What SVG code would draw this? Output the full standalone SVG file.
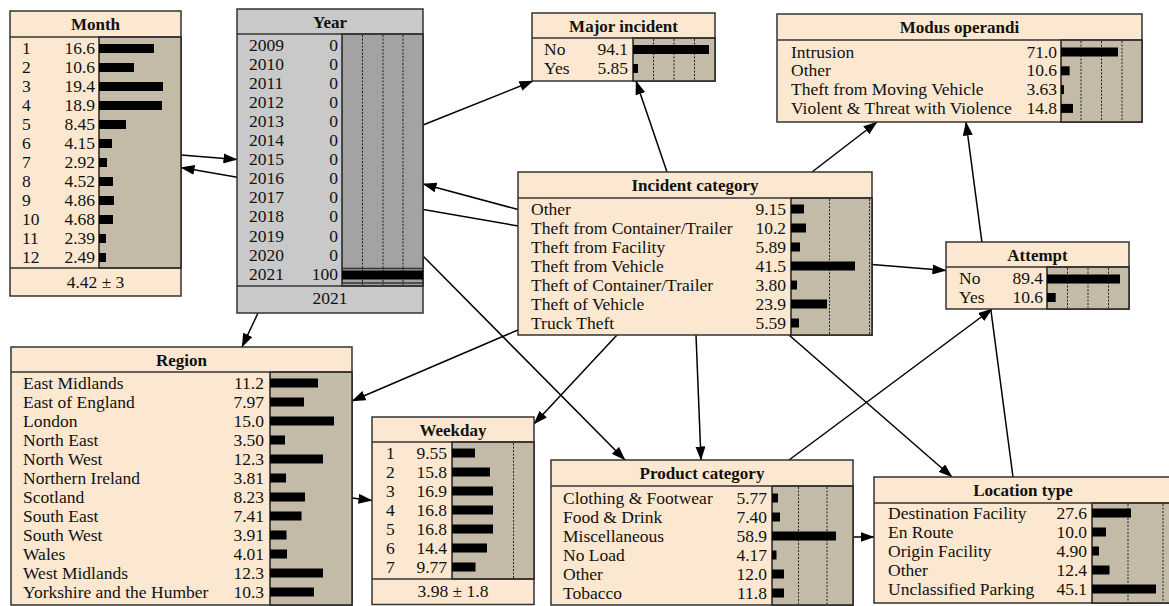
<svg xmlns="http://www.w3.org/2000/svg" width="1169" height="606" viewBox="0 0 1169 606">
<defs>
<marker id="ah" markerUnits="userSpaceOnUse" markerWidth="14" markerHeight="10" refX="13.5" refY="5" orient="auto">
<path d="M0,0 L14,5 L0,10 z" fill="#000"/>
</marker>
</defs>
<style>
text{font-family:"Liberation Serif","Times New Roman",serif;font-size:17.5px;fill:#111}
.ttl{font-weight:bold;text-anchor:middle;font-size:17px}
.val{text-anchor:end}
.ft{text-anchor:middle}
.box{fill:#fce8d0;stroke:#333;stroke-width:1.5}
.gbox{fill:#c9c9c9;stroke:#333;stroke-width:1.5}
.ba{fill:#c4baa8;stroke:#222;stroke-width:1.5}
.gba{fill:#a3a3a3;stroke:#222;stroke-width:1.5}
.sep{stroke:#333;stroke-width:1.5}
.dot{stroke:#222;stroke-width:1;stroke-dasharray:2,1.5}
.bar{fill:#000}
.lnk{stroke:#000;stroke-width:1.5;fill:none;marker-end:url(#ah)}
</style>
<rect width="1169" height="606" fill="#fff"/>

<!-- links between nodes, drawn first so boxes sit on top -->
<g id="connectors">
<line class="lnk" x1="181" y1="155" x2="237" y2="159.5"/>
<line class="lnk" x1="518" y1="226" x2="181" y2="167.5"/>
<line class="lnk" x1="518" y1="209.5" x2="423" y2="184"/>
<line class="lnk" x1="423" y1="125" x2="533" y2="81"/>
<line class="lnk" x1="667" y1="172" x2="636" y2="81"/>
<line class="lnk" x1="812" y1="172" x2="877" y2="122"/>
<line class="lnk" x1="872" y1="264.5" x2="946" y2="270.5"/>
<line class="lnk" x1="1013" y1="477" x2="966" y2="122"/>
<line class="lnk" x1="789" y1="460" x2="992" y2="309"/>
<line class="lnk" x1="258" y1="313" x2="242" y2="347"/>
<line class="lnk" x1="518" y1="330" x2="352" y2="401"/>
<line class="lnk" x1="352" y1="498" x2="372" y2="500.5"/>
<line class="lnk" x1="617" y1="335" x2="534" y2="424"/>
<line class="lnk" x1="423" y1="256" x2="625" y2="460"/>
<line class="lnk" x1="696" y1="335" x2="701" y2="460"/>
<line class="lnk" x1="789" y1="335" x2="952" y2="477"/>
<line class="lnk" x1="853" y1="537" x2="874" y2="537"/>
</g>

<!-- Month -->
<g id="month">
<rect class="box" x="10" y="11" width="171" height="285"/>
<rect class="ba" x="99" y="37" width="82" height="231"/>
<line class="sep" x1="10" y1="37" x2="181" y2="37"/>
<line class="sep" x1="10" y1="268" x2="181" y2="268"/>
<text class="ttl" x="95.5" y="30">Month</text>
<g>
<text x="22" y="53.5">1</text><text class="val" x="95" y="53.5">16.6</text><rect class="bar" x="99" y="44" width="55" height="9"/>
<text x="22" y="72.5">2</text><text class="val" x="95" y="72.5">10.6</text><rect class="bar" x="99" y="63" width="35" height="9"/>
<text x="22" y="91.5">3</text><text class="val" x="95" y="91.5">19.4</text><rect class="bar" x="99" y="82" width="64" height="9"/>
<text x="22" y="110.5">4</text><text class="val" x="95" y="110.5">18.9</text><rect class="bar" x="99" y="101" width="63" height="9"/>
<text x="22" y="129.5">5</text><text class="val" x="95" y="129.5">8.45</text><rect class="bar" x="99" y="120" width="27" height="9"/>
<text x="22" y="148.5">6</text><text class="val" x="95" y="148.5">4.15</text><rect class="bar" x="99" y="139" width="13" height="9"/>
<text x="22" y="167.5">7</text><text class="val" x="95" y="167.5">2.92</text><rect class="bar" x="99" y="158" width="8" height="9"/>
<text x="22" y="186.5">8</text><text class="val" x="95" y="186.5">4.52</text><rect class="bar" x="99" y="177" width="14" height="9"/>
<text x="22" y="205.5">9</text><text class="val" x="95" y="205.5">4.86</text><rect class="bar" x="99" y="196" width="15" height="9"/>
<text x="22" y="224.5">10</text><text class="val" x="95" y="224.5">4.68</text><rect class="bar" x="99" y="215" width="14" height="9"/>
<text x="22" y="243.5">11</text><text class="val" x="95" y="243.5">2.39</text><rect class="bar" x="99" y="234" width="7" height="9"/>
<text x="22" y="262.5">12</text><text class="val" x="95" y="262.5">2.49</text><rect class="bar" x="99" y="253" width="7" height="9"/>
</g>
<text class="ft" x="95.5" y="287.5">4.42 ± 3</text>
</g>

<!-- Year -->
<g id="year">
<rect class="gbox" x="237" y="9" width="186" height="304"/>
<rect class="gba" x="342" y="34" width="81" height="252"/>
<line class="dot" x1="362.5" y1="35" x2="362.5" y2="285"/>
<line class="dot" x1="383" y1="35" x2="383" y2="285"/>
<line class="dot" x1="403" y1="35" x2="403" y2="285"/>
<line class="sep" x1="237" y1="34" x2="423" y2="34"/>
<line class="sep" x1="237" y1="286" x2="423" y2="286"/>
<line class="sep" x1="342" y1="268.5" x2="423" y2="268.5"/>
<rect class="bar" x="342" y="270.5" width="81" height="9"/>
<line class="sep" x1="342" y1="283" x2="423" y2="283"/>
<text class="ttl" x="330" y="28">Year</text>
<g>
<text x="249" y="50.5">2009</text><text class="val" x="338" y="50.5">0</text>
<text x="249" y="69.6">2010</text><text class="val" x="338" y="69.6">0</text>
<text x="249" y="88.7">2011</text><text class="val" x="338" y="88.7">0</text>
<text x="249" y="107.8">2012</text><text class="val" x="338" y="107.8">0</text>
<text x="249" y="126.9">2013</text><text class="val" x="338" y="126.9">0</text>
<text x="249" y="146">2014</text><text class="val" x="338" y="146">0</text>
<text x="249" y="165.1">2015</text><text class="val" x="338" y="165.1">0</text>
<text x="249" y="184.2">2016</text><text class="val" x="338" y="184.2">0</text>
<text x="249" y="203.3">2017</text><text class="val" x="338" y="203.3">0</text>
<text x="249" y="222.4">2018</text><text class="val" x="338" y="222.4">0</text>
<text x="249" y="241.5">2019</text><text class="val" x="338" y="241.5">0</text>
<text x="249" y="260.6">2020</text><text class="val" x="338" y="260.6">0</text>
<text x="249" y="279.7">2021</text><text class="val" x="338" y="279.7">100</text>
</g>
<text class="ft" x="330" y="304">2021</text>
</g>

<!-- Major incident -->
<g id="major-incident">
<rect class="box" x="532" y="13" width="183" height="68"/>
<rect class="ba" x="633" y="38" width="82" height="43"/>
<line class="dot" x1="653.5" y1="39" x2="653.5" y2="80"/>
<line class="dot" x1="674" y1="39" x2="674" y2="80"/>
<line class="dot" x1="694.5" y1="39" x2="694.5" y2="80"/>
<line class="sep" x1="532" y1="38" x2="715" y2="38"/>
<text class="ttl" x="623.5" y="32">Major incident</text>
<text x="544" y="54.5">No</text><text class="val" x="628" y="54.5">94.1</text><rect class="bar" x="633" y="45" width="76" height="9"/>
<text x="544" y="73.5">Yes</text><text class="val" x="628" y="73.5">5.85</text><rect class="bar" x="633" y="64" width="5" height="9"/>
</g>

<!-- Modus operandi -->
<g id="modus-operandi">
<rect class="box" x="777" y="14" width="365" height="108"/>
<rect class="ba" x="1061" y="40" width="81" height="82"/>
<line class="dot" x1="1081" y1="41" x2="1081" y2="121"/>
<line class="dot" x1="1101.5" y1="41" x2="1101.5" y2="121"/>
<line class="dot" x1="1122" y1="41" x2="1122" y2="121"/>
<line class="sep" x1="777" y1="40" x2="1142" y2="40"/>
<text class="ttl" x="959.5" y="33">Modus operandi</text>
<text x="791" y="57.5">Intrusion</text><text class="val" x="1057" y="57.5">71.0</text><rect class="bar" x="1061" y="47.5" width="57" height="9"/>
<text x="791" y="76.3">Other</text><text class="val" x="1057" y="76.3">10.6</text><rect class="bar" x="1061" y="66.3" width="8.6" height="9"/>
<text x="791" y="95.1">Theft from Moving Vehicle</text><text class="val" x="1057" y="95.1">3.63</text><rect class="bar" x="1061" y="85.1" width="3" height="9"/>
<text x="791" y="113.9">Violent &amp; Threat with Violence</text><text class="val" x="1057" y="113.9">14.8</text><rect class="bar" x="1061" y="103.9" width="12" height="9"/>
</g>

<!-- Incident category -->
<g id="incident-category">
<rect class="box" x="518" y="172" width="354" height="163"/>
<rect class="ba" x="791" y="198" width="81" height="137"/>
<line class="dot" x1="829.5" y1="199" x2="829.5" y2="334"/>
<line class="dot" x1="869.5" y1="199" x2="869.5" y2="334"/>
<line class="sep" x1="518" y1="198" x2="872" y2="198"/>
<text class="ttl" x="695" y="191">Incident category</text>
<text x="531" y="214.5">Other</text><text class="val" x="786" y="214.5">9.15</text><rect class="bar" x="791" y="204.5" width="13" height="9"/>
<text x="531" y="233.5">Theft from Container/Trailer</text><text class="val" x="786" y="233.5">10.2</text><rect class="bar" x="791" y="223.5" width="15" height="9"/>
<text x="531" y="252.5">Theft from Facility</text><text class="val" x="786" y="252.5">5.89</text><rect class="bar" x="791" y="242.5" width="9" height="9"/>
<text x="531" y="271.5">Theft from Vehicle</text><text class="val" x="786" y="271.5">41.5</text><rect class="bar" x="791" y="261.5" width="64" height="9"/>
<text x="531" y="290.5">Theft of Container/Trailer</text><text class="val" x="786" y="290.5">3.80</text><rect class="bar" x="791" y="280.5" width="6" height="9"/>
<text x="531" y="309.5">Theft of Vehicle</text><text class="val" x="786" y="309.5">23.9</text><rect class="bar" x="791" y="299.5" width="36" height="9"/>
<text x="531" y="328.5">Truck Theft</text><text class="val" x="786" y="328.5">5.59</text><rect class="bar" x="791" y="318.5" width="8" height="9"/>
</g>

<!-- Attempt -->
<g id="attempt">
<rect class="box" x="946" y="242" width="183" height="67"/>
<rect class="ba" x="1047" y="267" width="82" height="42"/>
<line class="dot" x1="1067.5" y1="268" x2="1067.5" y2="308"/>
<line class="dot" x1="1088" y1="268" x2="1088" y2="308"/>
<line class="dot" x1="1108.5" y1="268" x2="1108.5" y2="308"/>
<line class="sep" x1="946" y1="267" x2="1129" y2="267"/>
<text class="ttl" x="1037.5" y="261">Attempt</text>
<text x="959" y="284">No</text><text class="val" x="1043" y="284">89.4</text><rect class="bar" x="1047" y="274.5" width="73" height="9"/>
<text x="959" y="302.5">Yes</text><text class="val" x="1043" y="302.5">10.6</text><rect class="bar" x="1047" y="293" width="8.7" height="9"/>
</g>

<!-- Region -->
<g id="region">
<rect class="box" x="11" y="347" width="341" height="258"/>
<rect class="ba" x="270" y="372" width="82" height="233"/>
<line class="sep" x1="11" y1="372" x2="352" y2="372"/>
<text class="ttl" x="181.5" y="366">Region</text>
<text x="23" y="388.5">East Midlands</text><text class="val" x="264" y="388.5">11.2</text><rect class="bar" x="270" y="378.5" width="48" height="9"/>
<text x="23" y="407.5">East of England</text><text class="val" x="264" y="407.5">7.97</text><rect class="bar" x="270" y="397.5" width="34" height="9"/>
<text x="23" y="426.5">London</text><text class="val" x="264" y="426.5">15.0</text><rect class="bar" x="270" y="416.5" width="64" height="9"/>
<text x="23" y="445.5">North East</text><text class="val" x="264" y="445.5">3.50</text><rect class="bar" x="270" y="435.5" width="15" height="9"/>
<text x="23" y="464.5">North West</text><text class="val" x="264" y="464.5">12.3</text><rect class="bar" x="270" y="454.5" width="53" height="9"/>
<text x="23" y="483.5">Northern Ireland</text><text class="val" x="264" y="483.5">3.81</text><rect class="bar" x="270" y="473.5" width="16" height="9"/>
<text x="23" y="502.5">Scotland</text><text class="val" x="264" y="502.5">8.23</text><rect class="bar" x="270" y="492.5" width="35" height="9"/>
<text x="23" y="521.5">South East</text><text class="val" x="264" y="521.5">7.41</text><rect class="bar" x="270" y="511.5" width="31.5" height="9"/>
<text x="23" y="540.5">South West</text><text class="val" x="264" y="540.5">3.91</text><rect class="bar" x="270" y="530.5" width="16.5" height="9"/>
<text x="23" y="559.5">Wales</text><text class="val" x="264" y="559.5">4.01</text><rect class="bar" x="270" y="549.5" width="17" height="9"/>
<text x="23" y="578.5">West Midlands</text><text class="val" x="264" y="578.5">12.3</text><rect class="bar" x="270" y="568.5" width="53" height="9"/>
<text x="23" y="597.5">Yorkshire and the Humber</text><text class="val" x="264" y="597.5">10.3</text><rect class="bar" x="270" y="587.5" width="44" height="9"/>
</g>

<!-- Weekday -->
<g id="weekday">
<rect class="box" x="372" y="417" width="162" height="187.5"/>
<rect class="ba" x="452" y="442" width="82" height="137"/>
<line class="dot" x1="513.5" y1="443" x2="513.5" y2="578"/>
<line class="sep" x1="372" y1="442" x2="534" y2="442"/>
<line class="sep" x1="372" y1="579" x2="534" y2="579"/>
<text class="ttl" x="453" y="436">Weekday</text>
<text x="386" y="458.5">1</text><text class="val" x="447" y="458.5">9.55</text><rect class="bar" x="452" y="448.5" width="23" height="9"/>
<text x="386" y="477.5">2</text><text class="val" x="447" y="477.5">15.8</text><rect class="bar" x="452" y="467.5" width="38" height="9"/>
<text x="386" y="496.5">3</text><text class="val" x="447" y="496.5">16.9</text><rect class="bar" x="452" y="486.5" width="41" height="9"/>
<text x="386" y="515.5">4</text><text class="val" x="447" y="515.5">16.8</text><rect class="bar" x="452" y="505.5" width="41" height="9"/>
<text x="386" y="534.5">5</text><text class="val" x="447" y="534.5">16.8</text><rect class="bar" x="452" y="524.5" width="41" height="9"/>
<text x="386" y="553.5">6</text><text class="val" x="447" y="553.5">14.4</text><rect class="bar" x="452" y="543.5" width="35" height="9"/>
<text x="386" y="572.5">7</text><text class="val" x="447" y="572.5">9.77</text><rect class="bar" x="452" y="562.5" width="23.5" height="9"/>
<text class="ft" x="453" y="597">3.98 ± 1.8</text>
</g>

<!-- Product category -->
<g id="product-category">
<rect class="box" x="551" y="460" width="302" height="145"/>
<rect class="ba" x="772" y="486" width="81" height="119"/>
<line class="dot" x1="798.5" y1="487" x2="798.5" y2="604"/>
<line class="dot" x1="827" y1="487" x2="827" y2="604"/>
<line class="sep" x1="551" y1="486" x2="853" y2="486"/>
<text class="ttl" x="702" y="479">Product category</text>
<text x="563" y="503.5">Clothing &amp; Footwear</text><text class="val" x="767" y="503.5">5.77</text><rect class="bar" x="772" y="493.5" width="6" height="9"/>
<text x="563" y="522.5">Food &amp; Drink</text><text class="val" x="767" y="522.5">7.40</text><rect class="bar" x="772" y="512.5" width="8" height="9"/>
<text x="563" y="541.5">Miscellaneous</text><text class="val" x="767" y="541.5">58.9</text><rect class="bar" x="772" y="531.5" width="64" height="9"/>
<text x="563" y="560.5">No Load</text><text class="val" x="767" y="560.5">4.17</text><rect class="bar" x="772" y="550.5" width="4.5" height="9"/>
<text x="563" y="579.5">Other</text><text class="val" x="767" y="579.5">12.0</text><rect class="bar" x="772" y="569.5" width="12" height="9"/>
<text x="563" y="598.5">Tobacco</text><text class="val" x="767" y="598.5">11.8</text><rect class="bar" x="772" y="588.5" width="12" height="9"/>
</g>

<!-- Location type -->
<g id="location-type">
<rect class="box" x="874" y="477" width="298" height="126"/>
<rect class="ba" x="1092" y="503" width="80" height="100"/>
<line class="dot" x1="1128" y1="504" x2="1128" y2="602"/>
<line class="dot" x1="1163" y1="504" x2="1163" y2="602"/>
<line class="sep" x1="874" y1="503" x2="1172" y2="503"/>
<text class="ttl" x="1023" y="496">Location type</text>
<text x="888" y="518.5">Destination Facility</text><text class="val" x="1087" y="518.5">27.6</text><rect class="bar" x="1092" y="508.5" width="39" height="9"/>
<text x="888" y="537.5">En Route</text><text class="val" x="1087" y="537.5">10.0</text><rect class="bar" x="1092" y="527.5" width="14" height="9"/>
<text x="888" y="556.5">Origin Facility</text><text class="val" x="1087" y="556.5">4.90</text><rect class="bar" x="1092" y="546.5" width="7" height="9"/>
<text x="888" y="575.5">Other</text><text class="val" x="1087" y="575.5">12.4</text><rect class="bar" x="1092" y="565.5" width="17.5" height="9"/>
<text x="888" y="594.5">Unclassified Parking</text><text class="val" x="1087" y="594.5">45.1</text><rect class="bar" x="1092" y="584.5" width="64" height="9"/>
</g>
</svg>
